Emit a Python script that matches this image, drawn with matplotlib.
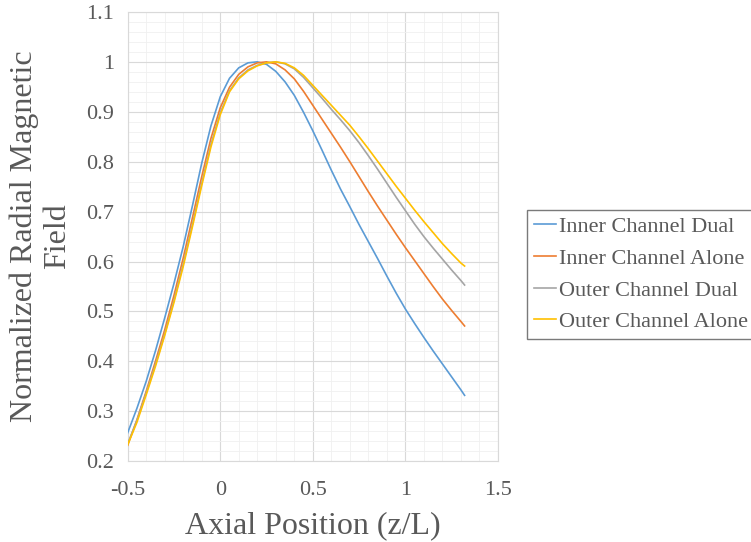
import numpy as np
import matplotlib
matplotlib.use('Agg')
import matplotlib.pyplot as plt
from matplotlib.ticker import MultipleLocator, FuncFormatter

z = [-0.5, -0.45, -0.4, -0.35, -0.3, -0.25, -0.2, -0.15, -0.1, -0.05,
     0.0, 0.05, 0.1, 0.15, 0.2, 0.25, 0.3, 0.35, 0.4, 0.45,
     0.5, 0.55, 0.6, 0.65, 0.7, 0.75, 0.8, 0.85, 0.9, 0.95,
     1.0, 1.05, 1.1, 1.15, 1.2, 1.25, 1.3, 1.32]
inner_dual = [0.257, 0.306, 0.36, 0.421, 0.487, 0.556, 0.63, 0.712, 0.797, 0.872,
              0.93, 0.967, 0.988, 0.998, 1.0, 0.995, 0.981, 0.96, 0.933, 0.899,
              0.862, 0.823, 0.783, 0.745, 0.71, 0.674, 0.64, 0.606, 0.571, 0.537,
              0.505, 0.476, 0.448, 0.421, 0.395, 0.369, 0.343, 0.332]
inner_alone = [0.232, 0.283, 0.34, 0.4, 0.463, 0.532, 0.607, 0.688, 0.77, 0.847,
               0.908, 0.949, 0.975, 0.99, 0.998, 1.0, 0.996, 0.984, 0.966, 0.941,
               0.913, 0.885, 0.857, 0.829, 0.8, 0.77, 0.74, 0.711, 0.683, 0.655,
               0.628, 0.602, 0.576, 0.55, 0.525, 0.502, 0.48, 0.471]
outer_dual = [0.235, 0.282, 0.337, 0.394, 0.455, 0.522, 0.595, 0.675, 0.757, 0.835,
              0.898, 0.942, 0.968, 0.984, 0.993, 0.998, 1.0, 0.996, 0.986, 0.969,
              0.948, 0.927, 0.905, 0.884, 0.862, 0.838, 0.812, 0.785, 0.757, 0.729,
              0.702, 0.675, 0.65, 0.627, 0.605, 0.583, 0.562, 0.553]
outer_alone = [0.233, 0.278, 0.333, 0.39, 0.452, 0.518, 0.59, 0.67, 0.752, 0.83,
               0.894, 0.94, 0.966, 0.982, 0.992, 0.998, 1.0, 0.997, 0.988, 0.973,
               0.953, 0.933, 0.913, 0.893, 0.873, 0.85, 0.826, 0.801, 0.776, 0.751,
               0.727, 0.703, 0.68, 0.658, 0.636, 0.616, 0.597, 0.591]

labels = ['Inner Channel Dual', 'Inner Channel Alone',
          'Outer Channel Dual', 'Outer Channel Alone']
colors = ['#5B9BD5', '#ED7D31', '#A5A5A5', '#FFC000']

TXT = '#595959'
plt.rcParams['font.family'] = ['Liberation Serif', 'DejaVu Serif']

fig = plt.figure(figsize=(7.51, 5.42), dpi=100)
ax = fig.add_axes([0.170, 0.149, 0.493, 0.829])

for ys, lab, c in zip([inner_dual, inner_alone, outer_dual, outer_alone], labels, colors):
    ax.plot(z, ys, color=c, lw=1.2, label=lab, zorder=3, solid_joinstyle='round')

ax.set_xlim(-0.5, 1.5)
ax.set_ylim(0.2, 1.1)
ax.xaxis.set_major_locator(MultipleLocator(0.5))
ax.xaxis.set_minor_locator(MultipleLocator(0.1))
ax.yaxis.set_major_locator(MultipleLocator(0.1))
ax.yaxis.set_minor_locator(MultipleLocator(0.02))
fmt = FuncFormatter(lambda v, p: '%g' % round(v, 2))
ax.xaxis.set_major_formatter(fmt)
ax.yaxis.set_major_formatter(fmt)

ax.grid(which='major', color='#d9d9d9', lw=0.8)
ax.grid(which='minor', color='#f0f0f0', lw=0.6)
ax.set_axisbelow(True)
for s in ax.spines.values():
    s.set_color('#d9d9d9')
    s.set_linewidth(0.8)

ax.tick_params(which='both', length=0, labelsize=16, labelcolor=TXT)
ax.tick_params(axis='x', pad=14)
ax.tick_params(axis='y', pad=10)

ax.set_xlabel('Axial Position (z/L)', fontsize=23, color=TXT, labelpad=8)
ax.set_ylabel('Normalized Radial Magnetic\nField', fontsize=23, color=TXT,
              labelpad=10, linespacing=1.2)

leg = ax.legend(loc='upper left', bbox_to_anchor=(0.702, 0.6125),
                bbox_transform=fig.transFigure, borderaxespad=0,
                fontsize=16, frameon=True, fancybox=False,
                handlelength=1.0, handletextpad=0.15, labelspacing=0.5,
                borderpad=0.3)
leg.get_frame().set_edgecolor('#595959')
leg.get_frame().set_linewidth(1.0)
for t in leg.get_texts():
    t.set_color(TXT)

fig.savefig('out.png', dpi=100)
